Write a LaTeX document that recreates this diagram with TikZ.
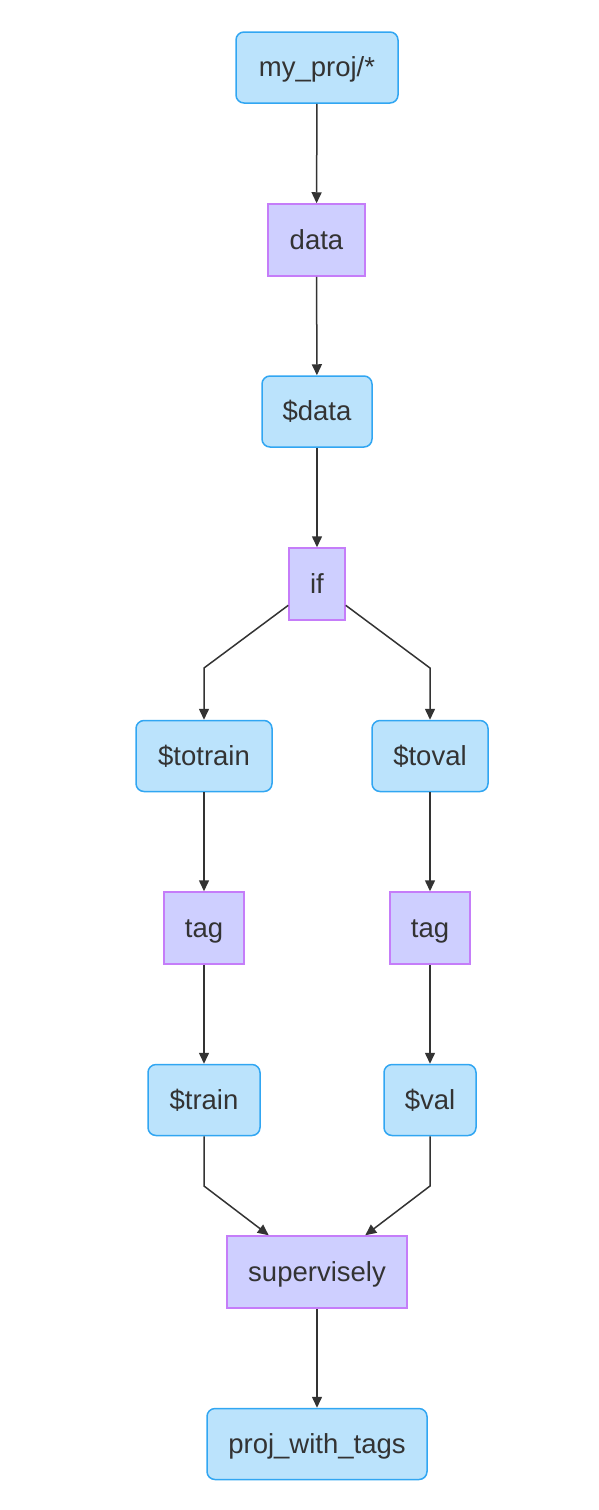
\documentclass[tikz,border=0pt]{standalone}
\usepackage{fontspec}
\setmainfont{Liberation Sans}
\usetikzlibrary{arrows.meta}
\definecolor{datafill}{HTML}{BBE3FC}
\definecolor{dataline}{HTML}{31A6F2}
\definecolor{opfill}{HTML}{CECFFF}
\definecolor{opline}{HTML}{C57DF9}
\definecolor{edgeline}{HTML}{333333}
\begin{document}
\begin{tikzpicture}[x=1pt,y=-1pt,
    font=\fontsize{27.5}{31}\selectfont,
    datanode/.style={draw=dataline,fill=datafill,line width=1.5pt,rounded corners=8pt,
        minimum height=71pt,inner sep=0pt,text height=18.6pt,text depth=0pt,text=edgeline},
    opnode/.style={draw=opline,fill=opfill,line width=1.5pt,
        minimum height=72pt,inner sep=0pt,text height=18.6pt,text depth=0pt,text=edgeline},
    flow/.style={draw=edgeline,line width=1.5pt,-{Triangle[length=11pt,width=10pt]}}]
    \useasboundingbox (0,0) rectangle (598,1510);
    % Nodes:
    % Middle column first, then the two branches
    \node [datanode,minimum width=162pt] (myproj) at (317,67.5) {my\_proj/*};
    \node [opnode,minimum width=97pt] (data) at (316.5,240) {data};
    \node [datanode,minimum width=110pt] (datavar) at (317,411.5) {\$data};
    \node [opnode,minimum width=56pt] (if) at (317,584) {if};
    \node [datanode,minimum width=136pt] (totrain) at (204,756) {\$totrain};
    \node [datanode,minimum width=116pt] (toval) at (430,756) {\$toval};
    \node [opnode,minimum width=80pt] (tagtrain) at (204,928) {tag};
    \node [opnode,minimum width=80pt] (tagval) at (430,928) {tag};
    \node [datanode,minimum width=112pt] (train) at (204,1100) {\$train};
    \node [datanode,minimum width=92pt] (val) at (430,1100) {\$val};
    \node [opnode,minimum width=180pt] (supervisely) at (317,1272) {supervisely};
    \node [datanode,minimum width=220pt] (projtags) at (317,1444) {proj\_with\_tags};
    % Bend points of the split and the merge
    \coordinate (splitleft) at (204,668);
    \coordinate (splitright) at (430,668);
    \coordinate (mergeleft) at (204,1186);
    \coordinate (mergeright) at (430,1186);
    % Edges:
    \draw [flow] (myproj) -- (data);
    \draw [flow] (data) -- (datavar);
    \draw [flow] (datavar) -- (if);
    \draw [flow] (if) -- (splitleft) -- (totrain);
    \draw [flow] (if) -- (splitright) -- (toval);
    \draw [flow] (totrain) -- (tagtrain);
    \draw [flow] (toval) -- (tagval);
    \draw [flow] (tagtrain) -- (train);
    \draw [flow] (tagval) -- (val);
    \draw [flow] (train) -- (mergeleft) -- (supervisely);
    \draw [flow] (val) -- (mergeright) -- (supervisely);
    \draw [flow] (supervisely) -- (projtags);
\end{tikzpicture}
\end{document}
